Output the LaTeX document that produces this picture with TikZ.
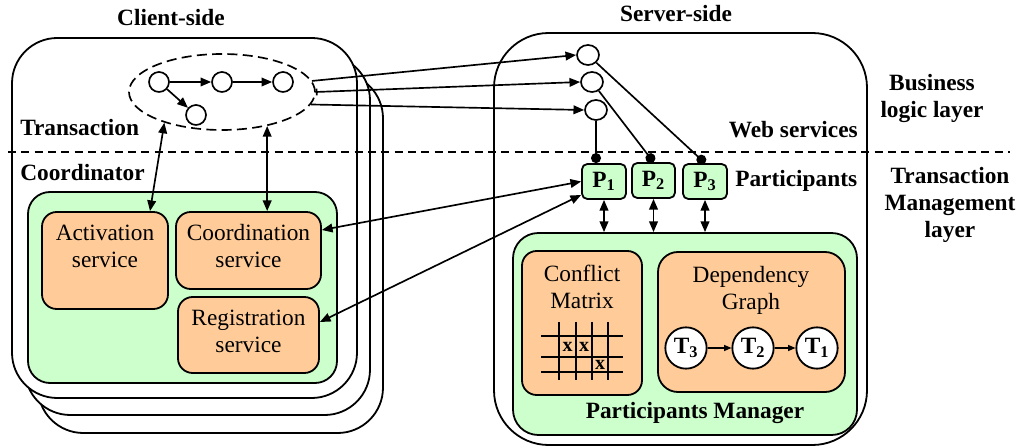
\documentclass[tikz,border=0pt]{standalone}
\usepackage{fontspec}
\setmainfont{Liberation Serif}
\usetikzlibrary{arrows.meta,shapes.geometric,fit}
\definecolor{mint}{RGB}{204,255,204}
\definecolor{peach}{RGB}{255,204,153}

\begin{document}
\begin{tikzpicture}[x=0.75pt,y=-0.75pt,
  txt/.style={font=\fontsize{17.5}{20.25}\selectfont, inner sep=0pt, align=center},
  bold/.style={font=\fontsize{17.5}{20.25}\selectfont\bfseries, inner sep=0pt, align=center},
  shell/.style={draw, line width=1.35pt, fill=white, rounded corners=34pt, inner sep=0pt},
  greenbox/.style={draw, line width=1.35pt, fill=mint, rounded corners=16.5pt, inner sep=0pt},
  svc/.style={draw, line width=1.35pt, fill=peach, rounded corners=11pt, inner sep=0pt},
  pbox/.style={draw, line width=1.35pt, fill=mint, rounded corners=4pt, inner sep=0pt,
               font=\fontsize{17.5}{20.25}\selectfont\bfseries},
  dot/.style={circle, draw, line width=1.25pt, fill=white, minimum size=15pt, inner sep=0pt},
  ws/.style={ellipse, draw, line width=1.25pt, fill=white, minimum width=16.5pt,
             minimum height=15pt, inner sep=0pt},
  tnode/.style={circle, draw, line width=1.35pt, fill=white, minimum size=31pt, inner sep=0pt,
                font=\fontsize{17.5}{20}\selectfont\bfseries},
  conn/.style={line width=1.25pt},
  arr/.style={conn, -{Triangle[length=8pt,width=6.5pt]}},
  darr/.style={conn, {Triangle[length=8pt,width=6.5pt]}-{Triangle[length=8pt,width=6.5pt]}},
  ballend/.style={conn, -{Circle[length=7.5pt]}},
  tarr/.style={line width=0.9pt, -{Triangle[length=5.5pt,width=4.5pt]}},
  gridline/.style={line width=1.3pt},
  xmark/.style={font=\fontsize{15}{15}\selectfont\bfseries, inner sep=0pt},
]
\useasboundingbox (0,0) rectangle (1021,448);

% ---------- client side: stacked coordinator instances ----------
\node[shell, fit={(38,73)(383,433)}] (c3) {};
\node[shell, fit={(25,55)(370,415)}] (c2) {};
\node[shell, fit={(12,38)(357,398)}] (c1) {};
\node[bold] at (171,18) {Client-side};
\node[bold, anchor=west] at (20,128) {Transaction};
\node[bold, anchor=west] at (20,173) {Coordinator};

\node[greenbox, fit={(28,192)(337,383)}] (coordin) {};
\node[svc, fit={(42,212)(168,309)}] (act) {};
\node[svc, fit={(176,212)(321,289)}] (crd) {};
\node[svc, fit={(178,297)(319,373)}] (reg) {};
\node[txt] at (105,246.5) {Activation\\service};
\node[txt] at (248.5,246.5) {Coordination\\service};
\node[txt] at (248.5,331) {Registration\\service};

% transaction graph
\node[ellipse, draw, line width=1.25pt, dash pattern=on 7.5pt off 4pt,
      minimum width=139.5pt, minimum height=57pt] (tx) at (222,92) {};
\node[dot] (ta) at (159,82) {};
\node[dot] (tb) at (222,82) {};
\node[dot] (tc) at (283,82) {};
\node[dot] (td) at (196,115) {};
\draw[arr] (ta) -- (tb);
\draw[arr] (tb) -- (tc);
\draw[arr] (ta) -- (td);

\coordinate (xact) at (150,0);
\draw[darr] (tx.208) -- (act.north -| xact);
\draw[darr] (tx.323.5) -- (crd.north -| tx.323.5);

% ---------- server side ----------
\node[shell, rounded corners=41pt, fit={(494,33)(867,445)}] (srv) {};
\node[bold] at (676,14) {Server-side};

\node[ws] (w1) at (588,55) {};
\node[ws] (w2) at (592,82) {};
\node[ws] (w3) at (596,110) {};

\node[pbox, fit={(582,164)(626,199)}] (p1) {};
\node[pbox, fit={(632,163)(675,198)}] (p2) {};
\node[pbox, fit={(683,164)(727,199)}] (p3) {};
\node[bold] at (p1.center) {P\textsubscript{1}};
\node[bold] at (p2.center) {P\textsubscript{2}};
\node[bold] at (p3.center) {P\textsubscript{3}};

\node[greenbox, rounded corners=19pt, fit={(513,233)(857,435)}] (pm) {};
\node[svc, fit={(522,251)(642,395)}] (cm) {};
\node[svc, rounded corners=15pt, fit={(658,252)(845,392)}] (dg) {};
\node[txt] at (582,286.5) {Conflict\\Matrix};
\node[txt] at (751,290) {Dependency\\Graph};
\node[bold] at (695,413) {Participants Manager};

% conflict matrix grid
\foreach \gx in {559,576,592,608} \draw[gridline] (\gx,322) -- (\gx,380);
\foreach \gy in {336,357,372} \draw[gridline] (541,\gy) -- (623,\gy);
\node[xmark] at (567.5,347) {x};
\node[xmark] at (584,347) {x};
\node[xmark] at (600,365) {x};

% dependency graph
\node[tnode] (T3) at (686,348) {T\textsubscript{3}};
\node[tnode] (T2) at (753,348) {T\textsubscript{2}};
\node[tnode] (T1) at (817,348) {T\textsubscript{1}};
\draw[tarr] (T3) -- (T2);
\draw[tarr] (T2) -- (T1);

% layer labels
\node[bold] at (932,98) {Business\\logic layer};
\node[bold, anchor=east] at (858,130) {Web services};
\node[bold, anchor=west] at (735,181) {Participants};
\node[bold] at (950,205) {Transaction\\Management\\layer};

% ---------- connectors ----------
\draw[arr] (tx.7) -- (w1.west);
\draw[conn, {Bar[width=5pt]}-{Triangle[length=8pt,width=6.5pt]}] (tx.east) -- (w2.west);
\draw[arr] (tx.352) -- (w3.west);

\draw[ballend] (w3) -- (p1.north -| w3);
\draw[ballend] (w2) -- (p2.north);
\draw[ballend] (w1) -- (p3.north);

\draw[darr] (p1.south) -- (p1.south |- pm.north);
\draw[darr] (p2.south) -- (p2.south |- pm.north);
\draw[darr] (p3.south) -- (p3.south |- pm.north);

\coordinate (ya) at (0,230);
\coordinate (yb) at (0,322);
\coordinate (yc) at (0,195);
\draw[darr] (crd.east |- ya) -- (p1.west);
\draw[darr] (reg.east |- yb) -- (p1.west |- yc);

% layer separator
\draw[line width=1.2pt, dash pattern=on 6pt off 4pt] (8,152) -- (1010,152);
\end{tikzpicture}
\end{document}
